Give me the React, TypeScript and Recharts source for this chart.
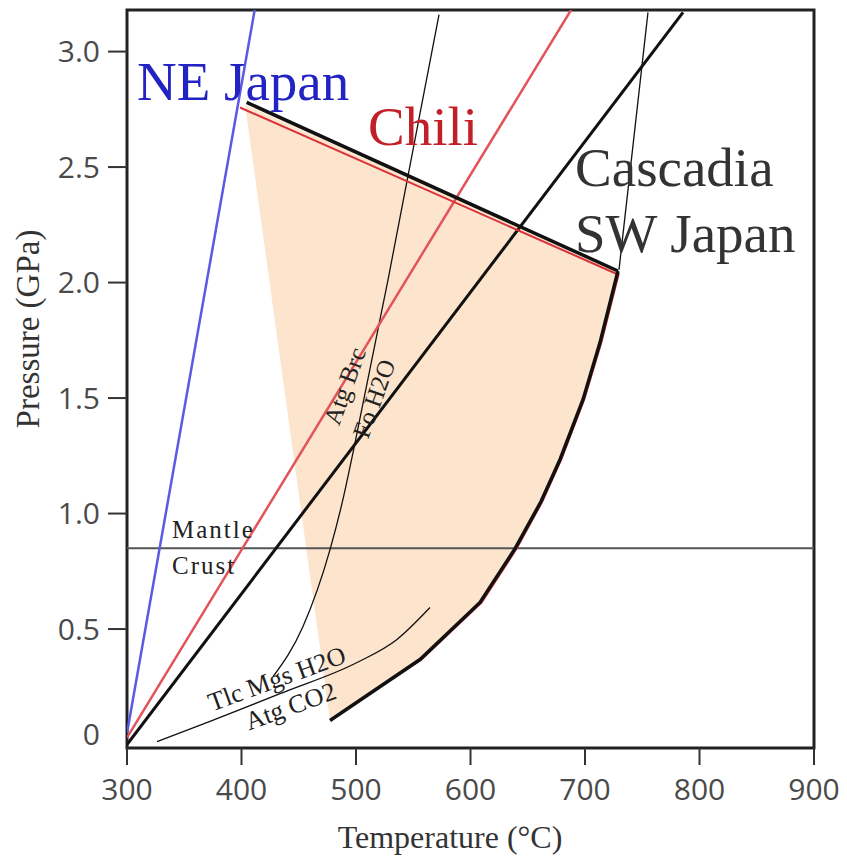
import {
  ComposedChart,
  Line,
  Area,
  XAxis,
  YAxis,
  ReferenceLine,
  ReferenceArea,
  ReferenceDot,
} from "recharts";

// temperature (°C) / pressure (GPa)
const tempTicks = [300, 400, 500, 600, 700, 800, 900];
const pressTicks = [0, 0.5, 1.0, 1.5, 2.0, 2.5, 3.0];
const mohoPressure = 0.85;

const neJapan = [
  { t: 300, p: 0.05 },
  { t: 411.5, p: 3.18 },
];
const chili = [
  { t: 300, p: 0.03 },
  { t: 687.8, p: 3.18 },
];
const cascadia = [
  { t: 300, p: 0.0 },
  { t: 785.6, p: 3.17 },
];

// Atg Brc = Fo H2O
const atgBrc = [
  { t: 427.5, p: 0.294 },
  { t: 453.7, p: 0.511 },
  { t: 477.3, p: 0.844 },
  { t: 488.6, p: 1.061 },
  { t: 497.4, p: 1.264 },
  { t: 528.0, p: 2.013 },
  { t: 572.5, p: 3.16 },
];
// steep reaction above the field
const atgOut = [
  { t: 729.7, p: 2.056 },
  { t: 755.0, p: 3.17 },
];
// Tlc Mgs H2O / Atg CO2
const tlcMgs = [
  { t: 326.2, p: 0.013 },
  { t: 372.5, p: 0.1 },
  { t: 436.2, p: 0.225 },
  { t: 500.9, p: 0.355 },
  { t: 535.8, p: 0.455 },
  { t: 564.6, p: 0.593 },
];

// shaded field, [low, high] pressure per temperature
const field = [
  { t: 403.1, band: [2.77, 2.77] },
  { t: 477.3, band: [0.104, 2.606] },
  { t: 555.9, band: [0.368, 2.432] },
  { t: 608.3, band: [0.615, 2.317] },
  { t: 638.9, band: [0.848, 2.249] },
  { t: 661.6, band: [1.052, 2.199] },
  { t: 678.2, band: [1.234, 2.162] },
  { t: 698.3, band: [1.494, 2.118] },
  { t: 713.1, band: [1.74, 2.085] },
  { t: 728.8, band: [2.048, 2.05] },
];

const topBlack = [
  { t: 404.5, p: 2.78 },
  { t: 728.8, p: 2.05 },
];
const topRed = [
  { t: 398.7, p: 2.758 },
  { t: 728.8, p: 2.035 },
];
const rightBlack = [
  { t: 477.3, p: 0.104 },
  { t: 555.9, p: 0.368 },
  { t: 608.3, p: 0.615 },
  { t: 638.9, p: 0.848 },
  { t: 661.6, p: 1.052 },
  { t: 678.2, p: 1.234 },
  { t: 698.3, p: 1.494 },
  { t: 713.1, p: 1.74 },
  { t: 728.8, p: 2.05 },
];
const rightRed = [
  { t: 521.0, p: 0.25 },
  { t: 557.5, p: 0.368 },
  { t: 610.0, p: 0.615 },
  { t: 640.5, p: 0.848 },
  { t: 663.0, p: 1.052 },
  { t: 679.5, p: 1.234 },
  { t: 699.5, p: 1.494 },
  { t: 714.5, p: 1.74 },
  { t: 729.8, p: 2.04 },
];

const SERIF = "'Liberation Serif', 'Times New Roman', serif";
const SANS = "'Open Sans', 'DejaVu Sans', sans-serif";

const XTick = ({ x, y, payload }: any) => (
  <text x={x} y={y} dy={31} textAnchor="middle" fontFamily={SANS} fontSize={30} fill="#4a4a4a">
    {payload.value}
  </text>
);

const YTick = ({ x, y, payload }: any) => {
  const zero = payload.value === 0;
  return (
    <g>
      {!zero && <line x1={x + 8} x2={x + 27} y1={y} y2={y} stroke="#333" strokeWidth={2} />}
      <text
        x={x}
        y={zero ? y - 10 : y}
        dy="0.36em"
        textAnchor="end"
        fontFamily={SANS}
        fontSize={30}
        fill="#4a4a4a"
      >
        {payload.value === 0 ? "0" : payload.value.toFixed(1)}
      </text>
    </g>
  );
};

function note(
  key: string,
  t: number,
  p: number,
  text: string,
  color: string,
  size: number,
  angle = 0,
  spacing = 0
) {
  return (
    <ReferenceDot
      key={key}
      x={t}
      y={p}
      r={1}
      fill="none"
      stroke="none"
      label={(lp: any) => {
        const cx = lp.viewBox.x + lp.viewBox.width / 2;
        const cy = lp.viewBox.y + lp.viewBox.height / 2;
        return (
          <text
            x={cx}
            y={cy}
            fontFamily={SERIF}
            fontSize={size}
            fill={color}
            letterSpacing={spacing}
            transform={angle ? `rotate(${angle} ${cx} ${cy})` : undefined}
          >
            {text}
          </text>
        );
      }}
    />
  );
}

const line = (key: string, data: any[], color: string, width: number, type: any = "linear") => (
  <Line
    key={key}
    data={data}
    dataKey="p"
    type={type}
    stroke={color}
    strokeWidth={width}
    dot={false}
    activeDot={false}
    isAnimationActive={false}
  />
);

export default function App() {
  return (
    <div style={{ width: 839, height: 856, fontFamily: SERIF }}>
      <ComposedChart width={839} height={856} margin={{ top: 2, right: 33, bottom: 0, left: 0 }}>
        <XAxis
          type="number"
          dataKey="t"
          domain={[300, 900]}
          ticks={tempTicks}
          allowDataOverflow
          height={116}
          axisLine={false}
          tickSize={17}
          tickMargin={4}
          tickLine={{ stroke: "#333", strokeWidth: 2 }}
          tick={<XTick />}
          label={(lp: any) => (
            <text
              x={lp.viewBox.x + 323}
              y={lp.viewBox.y + 100}
              textAnchor="middle"
              fontFamily={SERIF}
              fontSize={32}
              fill="#333"
            >
              Temperature (°C)
            </text>
          )}
        />
        <YAxis
          type="number"
          domain={[-0.015, 3.18]}
          ticks={pressTicks}
          allowDataOverflow
          width={119}
          axisLine={false}
          tickLine={false}
          tickSize={19}
          tickMargin={8}
          tick={<YTick />}
          label={(lp: any) => {
            const cx = lp.viewBox.x + 20;
            const cy = lp.viewBox.y + 319;
            return (
              <text
                x={cx}
                y={cy}
                textAnchor="middle"
                dominantBaseline="central"
                transform={`rotate(-90 ${cx} ${cy})`}
                fontFamily={SERIF}
                fontSize={33}
                fill="#333"
              >
                Pressure (GPa)
              </text>
            );
          }}
        />

        <Area
          data={field}
          dataKey="band"
          type="linear"
          stroke="none"
          fill="#fde5cd"
          fillOpacity={1}
          dot={false}
          activeDot={false}
          isAnimationActive={false}
        />

        <ReferenceLine y={mohoPressure} stroke="#555" strokeWidth={2} />

        {line("atgBrc", atgBrc, "#111", 1.3, "monotone")}
        {line("atgOut", atgOut, "#111", 1.3)}
        {line("tlcMgs", tlcMgs, "#111", 1.3, "monotone")}

        {line("neJapan", neJapan, "#5a5ae4", 2.5)}
        {line("chili", chili, "#e25459", 2.5)}
        {line("cascadia", cascadia, "#111", 3)}

        {line("topRed", topRed, "#d8323a", 2)}
        {line("rightRed", rightRed, "#d8323a", 1.5)}
        {line("topBlack", topBlack, "#111", 3.5)}
        {line("rightBlack", rightBlack, "#111", 3.5)}

        {note("ne", 308.7, 2.79, "NE Japan", "#2323c4", 55)}
        {note("chili", 510.5, 2.597, "Chili", "#c21f29", 55)}
        {note("casc", 691.3, 2.416, "Cascadia", "#333", 55)}
        {note("sw", 691.3, 2.134, "SW Japan", "#333", 55)}
        {note("mantle", 339.3, 0.896, "Mantle", "#222", 25, 0, 2)}
        {note("crust", 339.3, 0.74, "Crust", "#222", 25, 0, 2)}
        {note("atg1", 485.2, 1.377, "Atg Brc", "#222", 25, -70)}
        {note("fo", 510.5, 1.32, "Fo H2O", "#222", 25, -70)}
        {note("tlc", 374.2, 0.143, "Tlc Mgs H2O", "#222", 26, -20)}
        {note("atg2", 406.6, 0.061, "Atg CO2", "#222", 26, -20)}

        <ReferenceArea
          x1={300}
          x2={900}
          y1={-0.015}
          y2={3.18}
          fill="none"
          stroke="#222"
          strokeWidth={3}
          ifOverflow="visible"
        />
      </ComposedChart>
    </div>
  );
}
